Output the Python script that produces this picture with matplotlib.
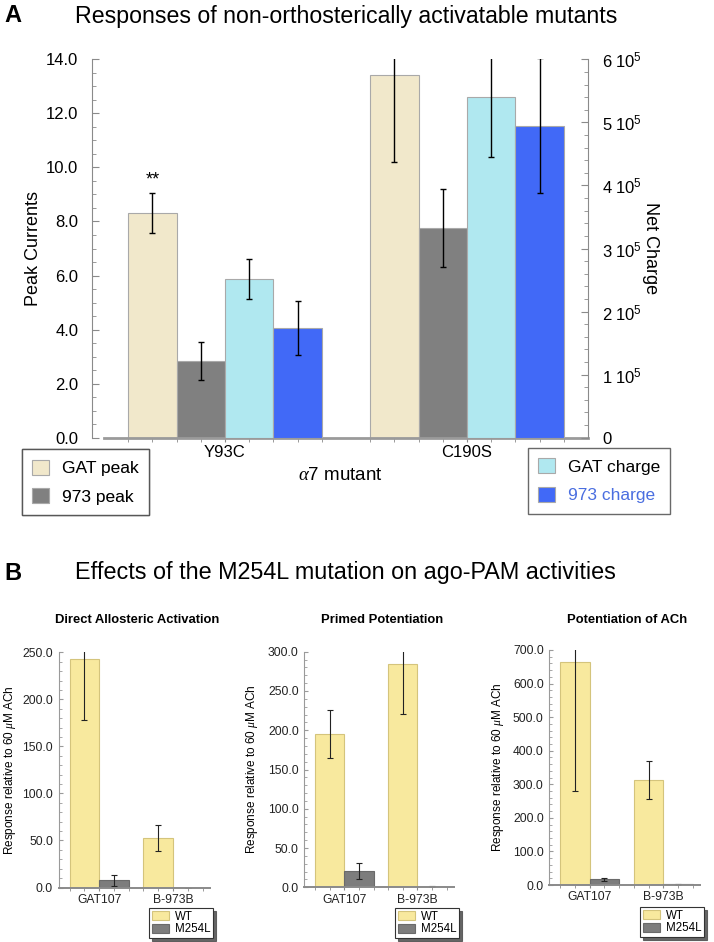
import numpy as np
import matplotlib
matplotlib.use('Agg')
import matplotlib.pyplot as plt
from matplotlib.ticker import FixedLocator, MultipleLocator, FuncFormatter, FormatStrFormatter
from matplotlib.patches import Patch

plt.rcParams['font.family'] = ['Liberation Sans', 'DejaVu Sans']
plt.rcParams['mathtext.fontset'] = 'custom'
plt.rcParams['mathtext.rm'] = 'Liberation Sans'
plt.rcParams['mathtext.it'] = 'Liberation Serif:italic'

# ---------------- data: panel A ----------------
mutants = ['Y93C', 'C190S']
gat_peak = [8.32, 13.41]
gat_peak_err = [0.75, 3.22]
peak_973 = [2.84, 7.75]
peak_973_err = [0.70, 1.45]
gat_charge = [2.52e5, 5.40e5]
gat_charge_err = [0.32e5, 0.95e5]
charge_973 = [1.74e5, 4.95e5]
charge_973_err = [0.43e5, 1.07e5]
series_a = ['GAT peak', '973 peak', 'GAT charge', '973 charge']

# ---------------- data: panel B ----------------
compounds = ['GAT107', 'B-973B']
groups_b = ['WT', 'M254L']
direct_wt = [243.2, 52.7]
direct_wt_err = [65.0, 13.5]
direct_m = [7.8, 0.0]
direct_m_err = [6.0, 0.0]
primed_wt = [195.2, 283.9]
primed_wt_err = [30.5, 63.0]
primed_m = [20.4, 1.0]
primed_m_err = [10.0, 0.5]
pot_wt = [663.3, 312.8]
pot_wt_err = [383.0, 58.0]
pot_m = [16.9, 1.5]
pot_m_err = [4.0, 0.5]

W, H = 714, 942
fig = plt.figure(figsize=(W / 100, H / 100), dpi=100)


def rect(l, t, r, b):
    return [l / W, 1 - b / H, (r - l) / W, (b - t) / H]


def fpt(x, y):
    return (x / W, 1 - y / H)


def fit_text(x, y, s, target_w, **kw):
    t = fig.text(*fpt(x, y), s, **kw)
    fig.canvas.draw()
    bb = t.get_window_extent(renderer=fig.canvas.get_renderer())
    t.set_fontsize(t.get_fontsize() * target_w / bb.width)
    return t


# ---------------- Panel A ----------------
c_gat_peak = '#f1e8cb'
c_973_peak = '#808080'
c_gat_ch = '#b0e8f0'
c_973_ch = '#4169f7'
edge_a = '#a9a9a9'
bw = 0.2
x = np.arange(len(mutants))

fig.text(*fpt(4, 16), 'A', fontsize=17, fontweight='bold', va='center')
fit_text(75, 16, 'Responses of non-orthosterically activatable mutants', 543,
         fontsize=15, va='center')

ax = fig.add_axes(rect(104, 59.3, 588, 437.7))
ax2 = ax.twinx()
ekw = dict(ecolor='black', elinewidth=1.0, capsize=2.5, capthick=1.0)
ax.bar(x - 1.5 * bw, gat_peak, bw, yerr=gat_peak_err, color=c_gat_peak,
       edgecolor=edge_a, linewidth=0.8, error_kw=ekw, label=series_a[0])
ax.bar(x - 0.5 * bw, peak_973, bw, yerr=peak_973_err, color=c_973_peak,
       edgecolor=edge_a, linewidth=0.8, error_kw=ekw, label=series_a[1])
ax2.bar(x + 0.5 * bw, gat_charge, bw, yerr=gat_charge_err, color=c_gat_ch,
        edgecolor=edge_a, linewidth=0.8, error_kw=ekw, label=series_a[2])
ax2.bar(x + 1.5 * bw, charge_973, bw, yerr=charge_973_err, color=c_973_ch,
        edgecolor=edge_a, linewidth=0.8, error_kw=ekw, label=series_a[3])

ax.set_xlim(-0.5, 1.5)
ax.set_ylim(0, 14)
ax2.set_ylim(0, 6e5)

for s in ['top', 'right']:
    ax.spines[s].set_visible(False)
for s in ['top', 'left', 'bottom']:
    ax2.spines[s].set_visible(False)
ax.spines['left'].set_position(('outward', 8.6))
ax.spines['left'].set_color('#8a8a8a')
ax.spines['left'].set_linewidth(0.8)
ax.spines['bottom'].set_color('#9a9a9a')
ax.spines['bottom'].set_linewidth(2.0)
ax2.spines['right'].set_color('#8a8a8a')
ax2.spines['right'].set_linewidth(0.8)

ax.yaxis.set_major_locator(MultipleLocator(2))
ax.yaxis.set_minor_locator(MultipleLocator(0.5))
ax.yaxis.set_major_formatter(FormatStrFormatter('%.1f'))
ax.tick_params(axis='y', which='both', direction='in', colors='#8a8a8a',
               labelcolor='black', labelsize=12, pad=10)
ax.tick_params(axis='y', which='major', length=5)
ax.tick_params(axis='y', which='minor', length=3)

ax2.yaxis.set_major_locator(MultipleLocator(1e5))
ax2.yaxis.set_minor_locator(MultipleLocator(0.2e5))
ax2.yaxis.set_major_formatter(FuncFormatter(
    lambda v, p: '0' if abs(v) < 1 else r'$\mathregular{%d\ 10^{5}}$' % round(v / 1e5)))
ax2.tick_params(axis='y', which='both', direction='in', colors='#8a8a8a',
                labelcolor='black', labelsize=12, pad=10)
ax2.tick_params(axis='y', which='major', length=5)
ax2.tick_params(axis='y', which='minor', length=3)

ax.set_xticks(x)
ax.set_xticklabels(mutants, fontsize=12)
minor_x = np.concatenate([g + np.arange(-2, 2.01, 0.5) * bw for g in x])
ax.xaxis.set_minor_locator(FixedLocator(minor_x))
ax.tick_params(axis='x', which='both', direction='out', length=3, colors='#8a8a8a',
               labelcolor='black', pad=2)

fig.text(*fpt(34, 248), 'Peak Currents', fontsize=13, rotation=90,
         ha='center', va='center')
fig.text(*fpt(650, 248), 'Net Charge', fontsize=13, rotation=270,
         ha='center', va='center')
fig.text(*fpt(340, 476), r'$\alpha$7 mutant', fontsize=13.5,
         ha='center', va='center')

ax.text(x[0] - 1.5 * bw, gat_peak[0] + gat_peak_err[0] + 0.45, '**',
        ha='center', va='center', fontsize=13)

leg_kw = dict(loc='upper left', fontsize=12.5, frameon=True, fancybox=False,
              edgecolor='#444444', handlelength=0.95, handleheight=0.95,
              handletextpad=0.75, labelspacing=0.7, borderpad=0.6,
              borderaxespad=0, bbox_transform=fig.transFigure)
h1 = [Patch(facecolor=c_gat_peak, edgecolor=edge_a, linewidth=0.8),
      Patch(facecolor=c_973_peak, edgecolor=edge_a, linewidth=0.8)]
leg1 = ax.legend(h1, series_a[:2], bbox_to_anchor=fpt(21.7, 449.3), **leg_kw)
leg1.get_frame().set_linewidth(1.0)
ax.add_artist(leg1)
h2 = [Patch(facecolor=c_gat_ch, edgecolor=edge_a, linewidth=0.8),
      Patch(facecolor=c_973_ch, edgecolor=edge_a, linewidth=0.8)]
leg2 = ax2.legend(h2, series_a[2:], bbox_to_anchor=fpt(527.7, 447.7), **leg_kw)
leg2.get_frame().set_linewidth(1.0)
leg2.get_texts()[1].set_color('#4a6ee0')

# ---------------- Panel B ----------------
fig.text(*fpt(4, 573), 'B', fontsize=17, fontweight='bold', va='center')
fit_text(75, 573, 'Effects of the M254L mutation on ago-PAM activities', 543,
         fontsize=15, va='center')

c_wt = '#f8e99e'
e_wt = '#d4c47c'
c_m = '#7d7d7d'
e_m = '#6a6a6a'
bwb = 0.4
xb = np.arange(len(compounds))

panels = [
    ('Direct Allosteric Activation', direct_wt, direct_wt_err, direct_m, direct_m_err,
     250, 50, 10, (58.5, 652.3, 210, 887.5), 137, 10, (149, 908)),
    ('Primed Potentiation', primed_wt, primed_wt_err, primed_m, primed_m_err,
     300, 50, 10, (304.3, 651.7, 454, 887.3), 381.7, 252, (395, 908)),
    ('Potentiation of ACh', pot_wt, pot_wt_err, pot_m, pot_m_err,
     700, 100, 20, (549.3, 650, 700, 885), 626.7, 498, (640, 907)),
]
ekwb = dict(ecolor='#222222', elinewidth=0.8, capsize=2, capthick=0.8)
for (title, wt, wte, m, me, ymax, maj, mnr, r, tx, ylx, lgp) in panels:
    a = fig.add_axes(rect(*r))
    a.bar(xb - bwb / 2, wt, bwb, yerr=wte, color=c_wt, edgecolor=e_wt,
          linewidth=0.8, error_kw=ekwb, label=groups_b[0])
    a.bar(xb + bwb / 2, m, bwb, yerr=me, color=c_m, edgecolor=e_m,
          linewidth=0.8, error_kw=ekwb, label=groups_b[1])
    a.set_xlim(-0.55, 1.5)
    a.set_ylim(0, ymax)
    for s in ['top', 'right']:
        a.spines[s].set_visible(False)
    a.spines['left'].set_color('#9a9a9a')
    a.spines['left'].set_linewidth(0.8)
    a.spines['bottom'].set_color('#8a8a8a')
    a.spines['bottom'].set_linewidth(1.4)
    a.yaxis.set_major_locator(MultipleLocator(maj))
    a.yaxis.set_minor_locator(MultipleLocator(mnr))
    a.yaxis.set_major_formatter(FormatStrFormatter('%.1f'))
    a.tick_params(axis='y', which='both', direction='in', colors='#9a9a9a',
                  labelcolor='#222222', labelsize=8.7, pad=4)
    a.tick_params(axis='y', which='major', length=3)
    a.tick_params(axis='y', which='minor', length=2)
    a.set_xticks(xb)
    a.set_xticklabels(compounds, fontsize=8.7, color='#222222')
    mx = np.concatenate([g + np.arange(-1, 1.01, 0.5) * bwb for g in xb])
    a.xaxis.set_minor_locator(FixedLocator(mx))
    a.tick_params(axis='x', which='both', direction='out', length=2.5,
                  colors='#8a8a8a', labelcolor='#222222', pad=2)
    fig.text(*fpt(tx, 620), title, fontsize=9.4, fontweight='bold',
             ha='center', va='center')
    fig.text(*fpt(ylx, (r[1] + r[3]) / 2), r'Response relative to 60 $\mu$M ACh',
             fontsize=8.5, rotation=90, ha='center', va='center')
    hb = [Patch(facecolor=c_wt, edgecolor=e_wt, linewidth=0.8),
          Patch(facecolor=c_m, edgecolor=e_m, linewidth=0.8)]
    lg = a.legend(hb, groups_b, loc='upper left', bbox_to_anchor=fpt(*lgp),
                  bbox_transform=fig.transFigure, fontsize=8.3, frameon=True,
                  fancybox=False, edgecolor='#333333', handlelength=1.5,
                  handleheight=0.8, handletextpad=0.5, labelspacing=0.05,
                  borderpad=0.25, borderaxespad=0,
                  shadow={'color': '#555555', 'alpha': 0.9})
    lg.get_frame().set_linewidth(0.8)

fig.savefig('out.png', dpi=100)
